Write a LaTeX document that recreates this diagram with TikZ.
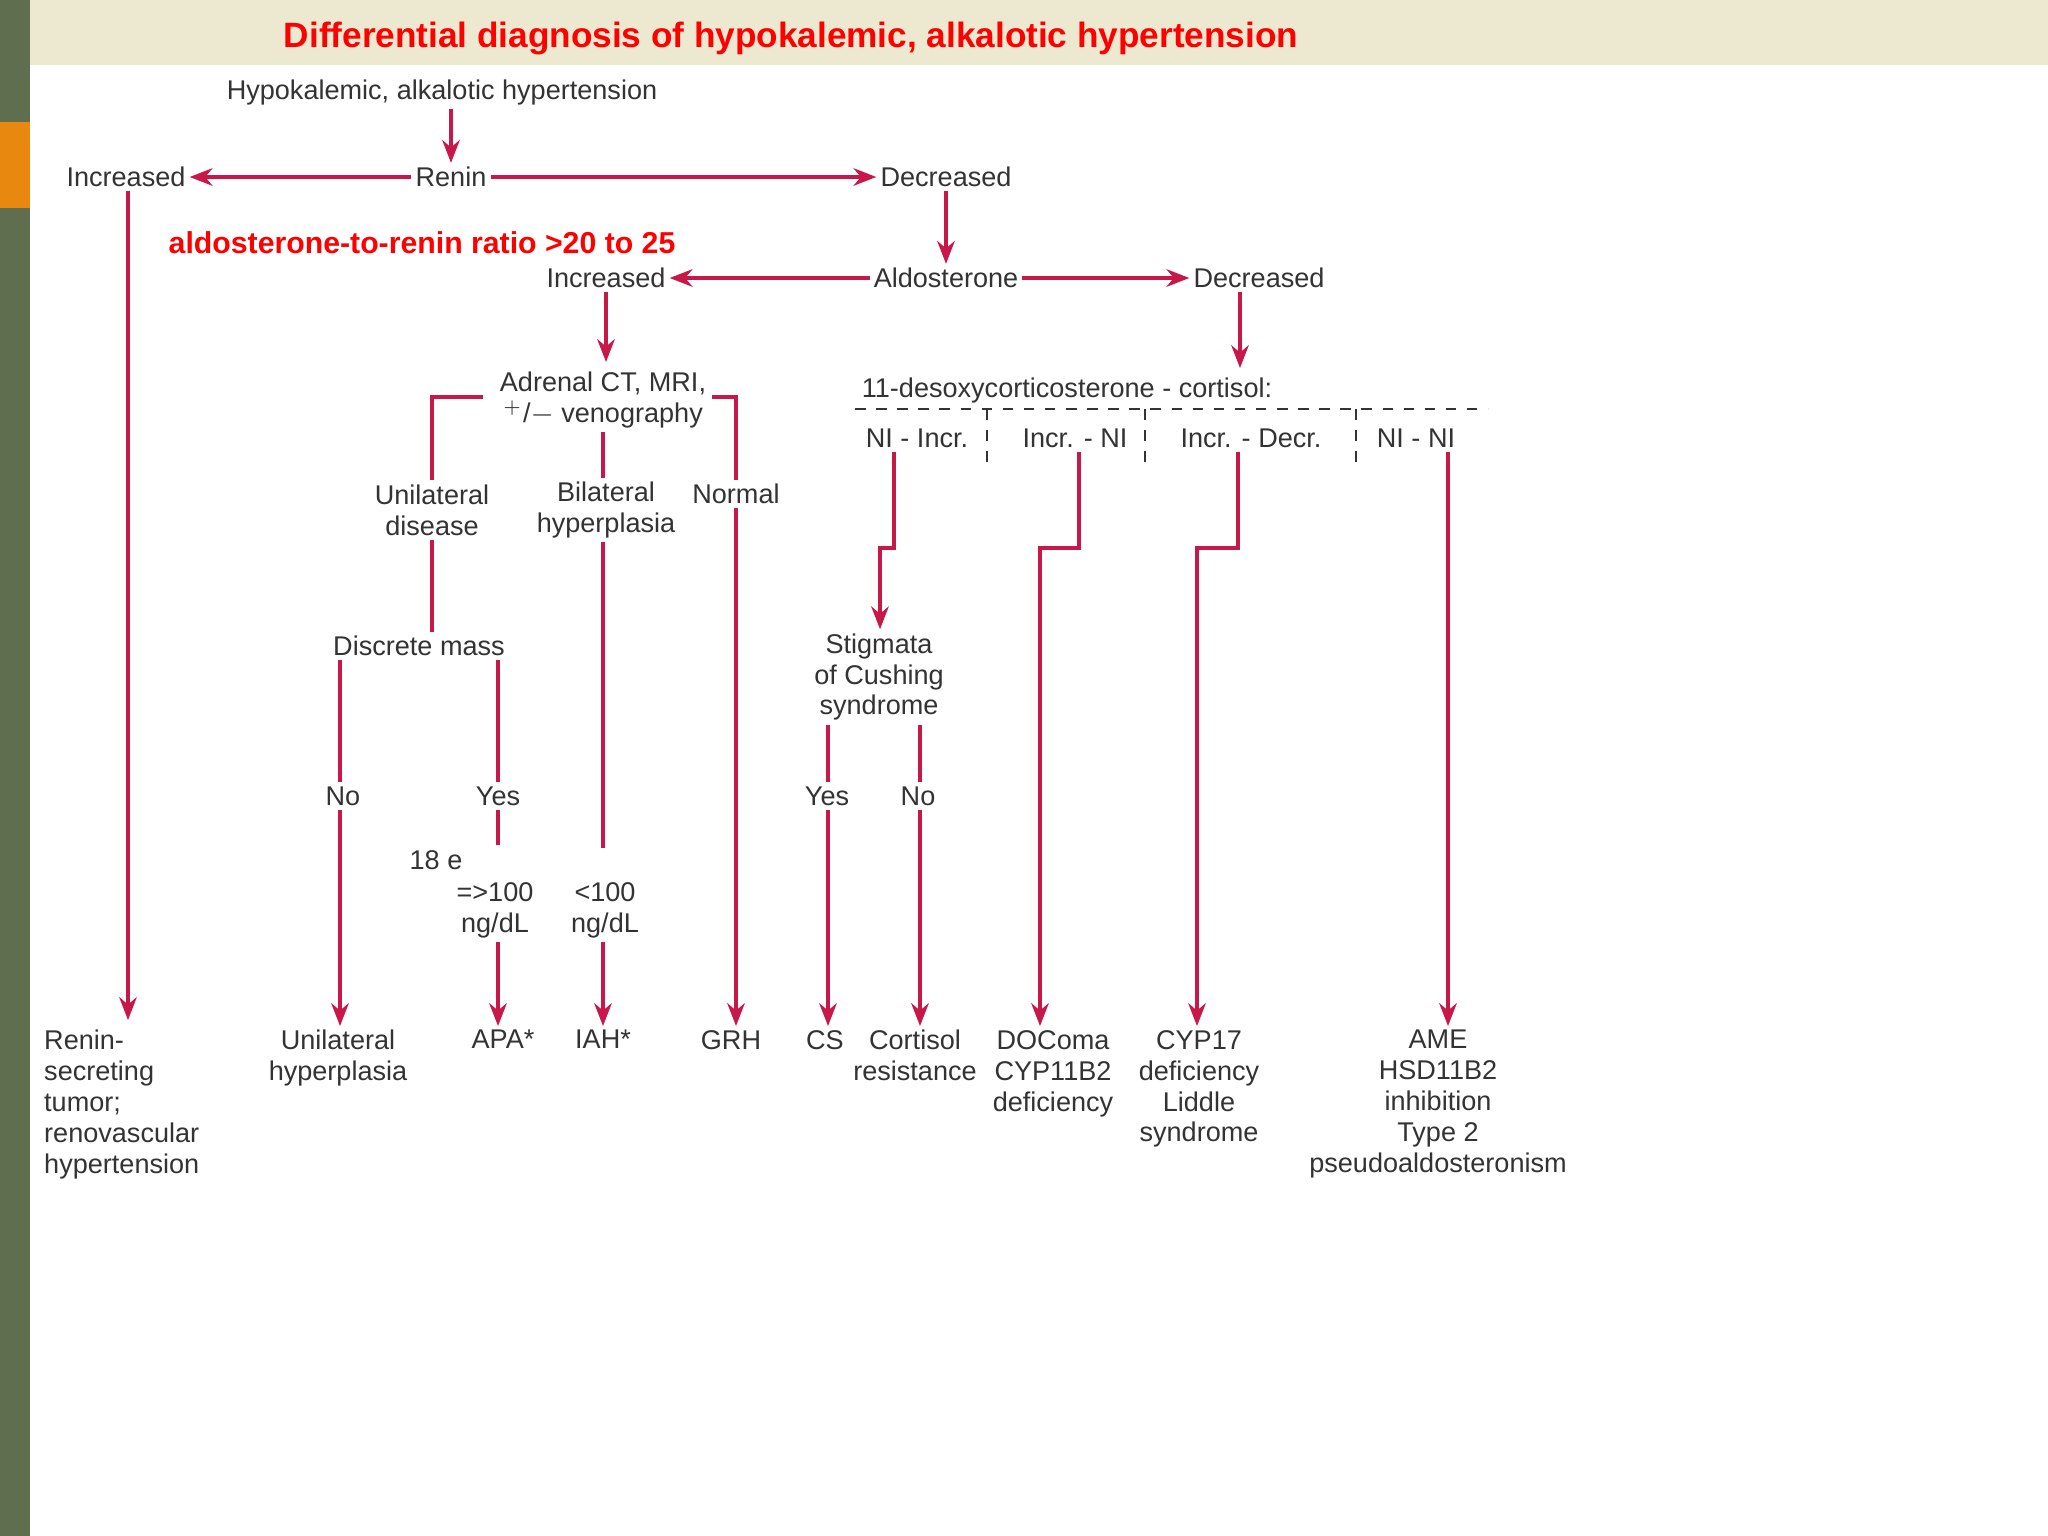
\documentclass[tikz,border=0pt]{standalone}
\usepackage{fontspec}
\setmainfont{Liberation Sans}
\usetikzlibrary{arrows.meta}
\definecolor{crim}{HTML}{C8184A}
\definecolor{banner}{HTML}{ECE9D0}
\definecolor{olive}{HTML}{5E6E4E}
\definecolor{orng}{HTML}{E8880F}
\definecolor{txt}{HTML}{333333}
\begin{document}
\begin{tikzpicture}[x=0.01cm,y=-0.01cm,
  lbl/.style={inner sep=1pt,text=txt,font=\fontsize{7.7}{8.8}\selectfont,align=center},
  bot/.style={lbl,anchor=north},
  ln/.style={draw=crim,line width=0.9pt},
  ar/.style={ln,-{Stealth[length=6.5pt,width=5pt]}},
  dsh/.style={draw=black!80,dashed,line width=0.6pt}]
\useasboundingbox (0,0) rectangle (2048,1536);
\fill[white] (0,0) rectangle (2048,1536);
\fill[banner] (30,0) rectangle (2048,65);
\fill[olive] (0,0) rectangle (30,1536);
\fill[orng] (0,122) rectangle (30,208);
\node[text=red,font=\bfseries\fontsize{10}{12}\selectfont] (title) at (791,38) {Differential diagnosis of hypokalemic, alkalotic hypertension};
\node[text=red,font=\bfseries\fontsize{8.6}{10}\selectfont,anchor=west,inner sep=0] (ratio) at (168,243) {aldosterone-to-renin ratio >20 to 25};

\node[lbl] (top) at (442,92) {Hypokalemic, alkalotic hypertension};
\node[lbl] (renin) at (451,177) {Renin};
\node[lbl] (inc1) at (126,177) {Increased};
\node[lbl] (dec1) at (946,177) {Decreased};
\node[lbl] (aldo) at (946,278) {Aldosterone};
\node[lbl] (inc2) at (606,278) {Increased};
\node[lbl] (dec2) at (1259,278) {Decreased};
\node[lbl] (adr) at (603,400) {Adrenal CT, MRI,\\$^{+}$/$-$ venography};
\node[lbl] (uni) at (432,510) {Unilateral\\disease};
\node[lbl] (bil) at (606,510) {Bilateral\\hyperplasia};
\node[lbl] (norm) at (736,494) {Normal};
\node[lbl] (dm) at (419,646) {Discrete mass};
\node[lbl] (no1) at (343,796) {No};
\node[lbl] (yes1) at (498,796) {Yes};
\node[lbl] (e18) at (436,860) {18 e};
\node[lbl] (ge) at (495,910) {=>100\\ng/dL};
\node[lbl] (lt) at (605,910) {<100\\ng/dL};
\node[lbl] (doc) at (1067,390) {11-desoxycorticosterone - cortisol:};
\node[lbl] (c1) at (917,438) {NI - Incr.};
\node[lbl] (c2) at (1075,438) {Incr. - NI};
\node[lbl] (c3) at (1251,438) {Incr. - Decr.};
\node[lbl] (c4) at (1416,438) {NI - NI};
\node[lbl] (stig) at (879,677) {Stigmata\\of Cushing\\syndrome};
\node[lbl] (yes2) at (827,796) {Yes};
\node[lbl] (no2) at (918,796) {No};

\node[bot,align=left,anchor=north west] (rst) at (40,1026) {Renin-\\secreting\\tumor;\\renovascular\\hypertension};
\node[bot] (uh) at (338,1026) {Unilateral\\hyperplasia};
\node[bot] (apa) at (503,1026) {APA*};
\node[bot] (iah) at (603,1026) {IAH*};
\node[bot] (grh) at (731,1026) {GRH};
\node[bot] (cs) at (825,1026) {CS};
\node[bot] (cr) at (915,1026) {Cortisol\\resistance};
\node[bot] (doco) at (1053,1026) {DOComa\\CYP11B2\\deficiency};
\node[bot] (cyp) at (1199,1026) {CYP17\\deficiency\\Liddle\\syndrome};
\node[bot] (ame) at (1438,1026) {AME\\HSD11B2\\inhibition\\Type 2\\pseudoaldosteronism};

\draw[ar] (top.south -| renin) -- (renin.north);
\draw[ar] (renin.west) -- (inc1.east);
\draw[ar] (renin.east) -- (dec1.west);
\draw[ar] (dec1.south) -- (aldo.north);
\draw[ar] (aldo.west) -- (inc2.east);
\draw[ar] (aldo.east) -- (dec2.west);
\draw[ar] (inc2.south) -- (606,362);
\draw[ln] (483,397) -- (432,397) -- (uni.north);
\draw[ln] (712,397) -- (736,397) -- (norm.north);
\draw[ln] (adr.south -| 603,0) -- (bil.north -| 603,0);
\draw[ln] (uni.south) -- (dm.north -| uni);
\draw[ln] (dm.south -| 340,0) -- (no1.north -| 340,0);
\draw[ar] (no1.south -| 340,0) -- (uh.north -| 340,0);
\draw[ln] (dm.south -| 498,0) -- (yes1.north -| 498,0);
\draw[ln] (yes1.south -| 498,0) -- (498,845);
\draw[ar] (ge.south -| 498,0) -- (apa.north -| 498,0);
\draw[ln] (bil.south -| 603,0) -- (603,848);
\draw[ar] (lt.south -| 603,0) -- (iah.north -| 603,0);
\draw[ar] (norm.south) -- (grh.north -| norm);
\draw[ar] (inc1.south -| 128,0) -- (128,1020);
\draw[ar] (dec2.south -| 1240,0) -- (1240,368);
\draw[dsh] (855,409) -- (1488,409);
\draw[dsh] (987,409) -- (987,462);
\draw[dsh] (1145,409) -- (1145,462);
\draw[dsh] (1356,409) -- (1356,462);
\draw[ar] (c1.south -| 894,0) -- (894,548) -- (880,548) -- (stig.north -| 880,0);
\draw[ln] (stig.south -| 828,0) -- (yes2.north -| 828,0);
\draw[ar] (yes2.south -| 828,0) -- (cs.north -| 828,0);
\draw[ln] (stig.south -| 920,0) -- (no2.north -| 920,0);
\draw[ar] (no2.south -| 920,0) -- (cr.north -| 920,0);
\draw[ar] (c2.south -| 1079,0) -- (1079,548) -- (1040,548) -- (doco.north -| 1040,0);
\draw[ar] (c3.south -| 1238,0) -- (1238,548) -- (1197,548) -- (cyp.north -| 1197,0);
\draw[ar] (c4.south -| 1448,0) -- (ame.north -| 1448,0);
\end{tikzpicture}
\end{document}
